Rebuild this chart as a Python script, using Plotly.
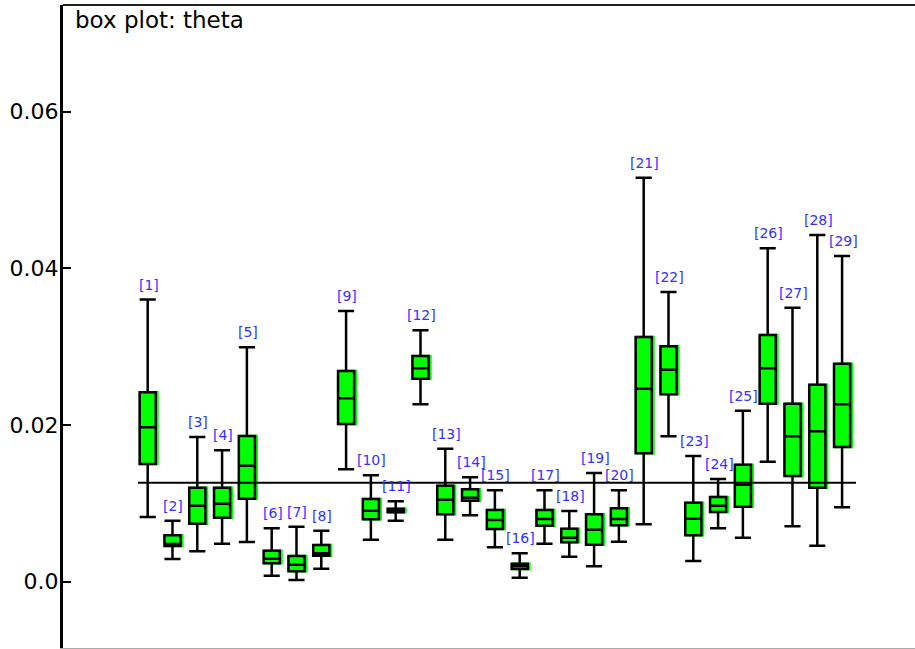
import plotly.graph_objects as go

# ---- data ----
labels = [f"[{i}]" for i in range(1, 30)]
idx = list(range(1, 30))
upper = [0.0360, 0.00776, 0.01845, 0.01675, 0.0299, 0.00679, 0.0070, 0.00649, 0.03453, 0.01356,
         0.01024, 0.03207, 0.01695, 0.0133, 0.01164, 0.0036, 0.01164, 0.0090, 0.01385, 0.01164,
         0.05155, 0.03696, 0.01602, 0.01309, 0.02181, 0.04254, 0.03496, 0.04424, 0.04155]
q3 = [0.02415, 0.0059, 0.01198, 0.01198, 0.01858, 0.00394, 0.00326, 0.00466, 0.02687, 0.01053,
      0.0093, 0.02879, 0.01223, 0.01177, 0.00913, 0.00227, 0.00913, 0.00674, 0.00858, 0.00934,
      0.03121, 0.03003, 0.01006, 0.01079, 0.01491, 0.03147, 0.0227, 0.02513, 0.02781]
median = [0.01969, 0.00479, 0.00968, 0.00993, 0.01479, 0.00291, 0.00215, 0.0036, 0.02339, 0.00904,
          0.00913, 0.02722, 0.01044, 0.0107, 0.00785, 0.00198, 0.00798, 0.00559, 0.00661, 0.00798,
          0.02461, 0.02704, 0.00802, 0.00968, 0.01236, 0.02722, 0.01854, 0.01917, 0.02262]
q1 = [0.0150, 0.00453, 0.00738, 0.00815, 0.01057, 0.00232, 0.0013, 0.0033, 0.02011, 0.00794,
      0.00883, 0.02589, 0.00858, 0.01032, 0.0067, 0.0016, 0.00712, 0.0050, 0.0047, 0.00717,
      0.01637, 0.0239, 0.0059, 0.00887, 0.00955, 0.0227, 0.01347, 0.01198, 0.01717]
lower = [0.00823, 0.00287, 0.00386, 0.00483, 0.00504, 0.00074, 0.00019, 0.00164, 0.01432, 0.00534,
         0.00776, 0.02262, 0.00534, 0.00845, 0.00436, 0.00049, 0.00483, 0.00317, 0.00194, 0.00508,
         0.0073, 0.01854, 0.00262, 0.00679, 0.00559, 0.0153, 0.00705, 0.00457, 0.00947]
overall_mean = 0.0126
ytick_vals = [0.0, 0.02, 0.04, 0.06]
ytick_text = ["0.0", "0.02", "0.04", "0.06"]
title_text = "box plot: theta"

FONT = "DejaVu Sans"
GREEN = "#00ff00"
LABEL_BLUE = "#3333ff"
BOX_W = 0.65
SHADOW_DX = 0.07

fig = go.Figure()

# green "shadow" behind each box (box only, no whiskers)
fig.add_trace(go.Box(
    x=[v + SHADOW_DX for v in idx], q1=q1, median=median, q3=q3,
    lowerfence=q1, upperfence=q3,
    fillcolor=GREEN, line=dict(color=GREEN, width=2.5),
    width=BOX_W, whiskerwidth=0, boxpoints=False, showlegend=False, hoverinfo="skip"))

# main boxes
fig.add_trace(go.Box(
    x=idx, q1=q1, median=median, q3=q3, lowerfence=lower, upperfence=upper,
    fillcolor=GREEN, line=dict(color="black", width=2.5),
    width=BOX_W, whiskerwidth=1, boxpoints=False, showlegend=False))

# overall mean line
fig.add_trace(go.Scatter(
    x=[idx[0] - 0.39, idx[-1] + 0.56], y=[overall_mean, overall_mean],
    mode="lines", line=dict(color="black", width=2), showlegend=False, hoverinfo="skip"))

annotations = []
for i, lab, u in zip(idx, labels, upper):
    annotations.append(dict(x=i, y=u, text=lab, showarrow=False, xanchor="center",
                            yanchor="bottom", yshift=5, xshift=1,
                            font=dict(family=FONT, size=14, color=LABEL_BLUE)))
annotations.append(dict(x=0.012, y=1, xref="paper", yref="paper", text=title_text,
                        showarrow=False, xanchor="left", yanchor="top", yshift=0,
                        font=dict(family=FONT, size=23, color="black")))

fig.update_layout(
    width=915, height=649,
    margin=dict(l=63, r=0, t=5, b=1),
    paper_bgcolor="white", plot_bgcolor="white",
    annotations=annotations,
    shapes=[dict(type="line", xref="paper", yref="paper", x0=0, x1=1, y0=1, y1=1,
                 line=dict(color="#222222", width=2))],
    xaxis=dict(range=[-2.415, 31.94], showgrid=False, zeroline=False, showticklabels=False,
               ticks="", showline=True, linecolor="#aaaaaa", linewidth=2),
    yaxis=dict(range=[-0.00849, 0.0736], showgrid=False, zeroline=False,
               tickvals=ytick_vals, ticktext=ytick_text, ticks="inside", ticklen=8,
               tickwidth=2, tickcolor="black", showline=True, linecolor="black", linewidth=3,
               ticklabelstandoff=-3,
               tickfont=dict(family=FONT, size=22, color="black")),
    font=dict(family=FONT),
)

fig.write_html("out.html", config={"displayModeBar": False},
               post_script="document.body.style.margin='0';")
